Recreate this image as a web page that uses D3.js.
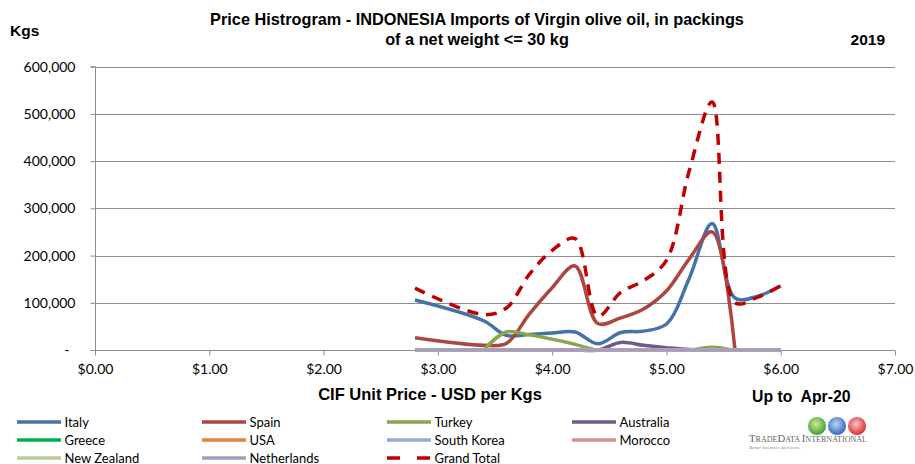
<!DOCTYPE html>
<html>
<head>
<meta charset="utf-8">
<script src="https://cdn.jsdelivr.net/npm/d3@7"></script>
<style>
  body { margin: 0; background: #fff; }
  svg { display: block; }
</style>
</head>
<body>
<svg id="chart" width="915" height="464"></svg>
<script>
// --- data (null = no value in that bin) ---
const prices = [2.8, 3.4, 3.6, 3.8, 4.0, 4.2, 4.4, 4.6, 4.8, 5.0, 5.2, 5.4, 5.6, 5.8, 6.0];
const italy      = [106000, 62000, 31000, 33000, 36000, 38000, 13000, 37000, 40000, 55000, 152000, 268000, 110000, 114000, 136000];
const spain      = [26000, 10000, 14000, 76000, 132000, 178000, 56000, 68000, 87000, 125000, 193000, 250000, 0, null, null];
const turkey     = [null, 0, 38000, 32000, 23000, 12000, 0, 0, 0, 0, 0, 6000, 0, 0, 0];
const australia  = [0, 0, 0, 0, 0, 0, 0, 16000, 10000, 5000, 1000, 0, 0, 0, 0];
const greece     = [0, 0, 0, 0, 0, 0, 0, 0, 0, 0, 0, 0, 0, 0, 0];
const usa        = [0, 0, 0, 0, 0, 0, 0, 0, 0, 0, 0, 0, 0, 0, 0];
const southKorea = [0, 0, 0, 0, 0, 0, 0, 0, 0, 0, 0, 0, 0, 0, 0];
const morocco    = [0, 0, 0, 0, 0, 0, 0, 0, 0, 0, 0, 0, 0, 0, 0];
const newZealand = [0, 0, 0, 0, 0, 0, 0, 0, 0, 0, 0, 0, 0, 0, 0];
const netherlands= [0, 0, 0, 0, 0, 0, 0, 0, 0, 0, 0, 0, 0, 0, 0];
const grandTotal = [131000, 75000, 89000, 160000, 211000, 236000, 72000, 122000, 147000, 190000, 380000, 525000, 100000, 112000, 136000];

const xTicks = [0, 1, 2, 3, 4, 5, 6, 7];
const yTicks = [0, 100000, 200000, 300000, 400000, 500000, 600000];

// series in drawing order (also legend order)
const series = [
  { name: "Italy",       values: italy,       color: "#4572A7" },
  { name: "Spain",       values: spain,       color: "#AA4643" },
  { name: "Turkey",      values: turkey,      color: "#89A54E" },
  { name: "Australia",   values: australia,   color: "#71588F" },
  { name: "Greece",      values: greece,      color: "#00B050" },
  { name: "USA",         values: usa,         color: "#DB843D" },
  { name: "South Korea", values: southKorea,  color: "#93A9CF" },
  { name: "Morocco",     values: morocco,     color: "#D19392" },
  { name: "New Zealand", values: newZealand,  color: "#B9CD96" },
  { name: "Netherlands", values: netherlands, color: "#A99BBD" },
  { name: "Grand Total", values: grandTotal,  color: "#C00000", dash: "11,8" }
];

const svg = d3.select("#chart");
svg.append("rect").attr("width", 915).attr("height", 464).attr("fill", "#fff");

const x = d3.scaleLinear().domain([0, 7]).range([95, 895]);
const y = d3.scaleLinear().domain([0, 600000]).range([350, 66.7]);

const sans = "'Liberation Sans', Arial, sans-serif";
const cal = "Lato, 'Open Sans', sans-serif";

// gridlines
svg.append("g")
  .selectAll("line")
  .data(yTicks.slice(1))
  .join("line")
  .attr("x1", x(0)).attr("x2", x(7))
  .attr("y1", d => Math.round(y(d)) + 0.5)
  .attr("y2", d => Math.round(y(d)) + 0.5)
  .attr("stroke", "#8c8c8c")
  .attr("stroke-width", 1);

// y axis
const yAxis = svg.append("g")
  .attr("transform", `translate(${x(0) + 0.5},0)`)
  .call(d3.axisLeft(y).tickValues(yTicks).tickSize(5).tickPadding(15)
    .tickFormat(d => d === 0 ? "-" : d3.format(",")(d)));
yAxis.select(".domain").attr("stroke", "#8c8c8c").attr("d", `M-5,${y(600000)}H0V${y(0)}`);
yAxis.selectAll(".tick line").attr("stroke", "#8c8c8c");
yAxis.selectAll("text")
  .attr("font-family", cal).attr("font-size", 14).attr("fill", "#000")
  .attr("dx", d => d === 0 ? -6 : 0);

// x axis
const xAxis = svg.append("g")
  .attr("transform", `translate(0,${Math.round(y(0)) + 0.5})`)
  .call(d3.axisBottom(x).tickValues(xTicks).tickSize(5).tickPadding(9)
    .tickFormat(d => "$" + d3.format(".2f")(d)));
xAxis.select(".domain").attr("stroke", "#8c8c8c").attr("d", `M${x(0)},0H${x(7)}`);
xAxis.selectAll(".tick line").attr("stroke", "#8c8c8c");
xAxis.selectAll("text").attr("font-family", cal).attr("font-size", 14).attr("fill", "#000");

// lines
const line = d3.line()
  .defined(d => d != null)
  .x((d, i) => x(prices[i]))
  .y(d => y(d))
  .curve(d3.curveCatmullRom.alpha(0.5));

svg.append("g")
  .selectAll("path")
  .data(series)
  .join("path")
  .attr("d", d => line(d.values))
  .attr("fill", "none")
  .attr("stroke", d => d.color)
  .attr("stroke-width", 3.5)
  .attr("stroke-linejoin", "round")
  .attr("stroke-dasharray", d => d.dash || null);

// titles
function bold(xp, yp, size, txt, anchor) {
  return svg.append("text").attr("x", xp).attr("y", yp)
    .attr("text-anchor", anchor || "start")
    .attr("font-family", sans).attr("font-weight", "bold").attr("font-size", size)
    .attr("xml:space", "preserve")
    .text(txt);
}
bold(477, 25, 16.3, "Price Histrogram - INDONESIA Imports of Virgin olive oil, in packings", "middle");
bold(477, 45, 16.3, "of a net weight <= 30 kg", "middle");
bold(10, 36, 15.5, "Kgs");
bold(885, 45, 15.5, "2019", "end");
bold(430, 400, 16.5, "CIF Unit Price - USD per Kgs", "middle");
bold(752, 402, 15.8, "Up to  Apr-20");

// legend
const legend = svg.append("g");
const items = legend.selectAll("g")
  .data(series)
  .join("g")
  .attr("transform", (d, i) => `translate(${17 + (i % 4) * 185},${422 + Math.floor(i / 4) * 18})`);
items.append("line")
  .attr("x1", 0).attr("x2", 44)
  .attr("stroke", d => d.color)
  .attr("stroke-width", 3.5)
  .attr("stroke-dasharray", d => d.dash ? "13,17" : null);
items.append("text")
  .attr("x", 47.5).attr("y", 4.5)
  .attr("font-family", cal).attr("font-size", 13).attr("fill", "#000")
  .text(d => d.name);

// logo
const logo = svg.append("g");
const defs = svg.append("defs");
[["g1", "#c9ec9c", "#3f9a2c"], ["g2", "#bcd6f5", "#2d62b5"], ["g3", "#f8c4c4", "#d42a2a"]].forEach(([id, c0, c1]) => {
  const g = defs.append("radialGradient").attr("id", id).attr("cx", "45%").attr("cy", "40%").attr("r", "60%");
  g.append("stop").attr("offset", "0%").attr("stop-color", c0);
  g.append("stop").attr("offset", "100%").attr("stop-color", c1);
});
logo.selectAll("circle")
  .data([[817, "g1"], [837, "g2"], [857, "g3"]])
  .join("circle")
  .attr("cx", d => d[0]).attr("cy", 426).attr("r", 9.5)
  .attr("fill", d => `url(#${d[1]})`)
  .attr("stroke", "#fff").attr("stroke-width", 1);
const brand = logo.append("text").attr("x", 749).attr("y", 442)
  .attr("font-family", "'Liberation Serif', serif").attr("fill", "#666")
  .attr("textLength", 118).attr("lengthAdjust", "spacingAndGlyphs");
[["T", 10], ["RADE", 7.5], ["D", 10], ["ATA ", 7.5], ["I", 10], ["NTERNATIONAL", 7.5]].forEach(([t, s]) => {
  brand.append("tspan").attr("font-size", s).text(t);
});
logo.append("text").attr("x", 749).attr("y", 449)
  .attr("font-family", "'Liberation Serif', serif").attr("font-style", "italic").attr("font-size", 5).attr("fill", "#888")
  .text("Better business decisions.");
</script>
</body>
</html>
